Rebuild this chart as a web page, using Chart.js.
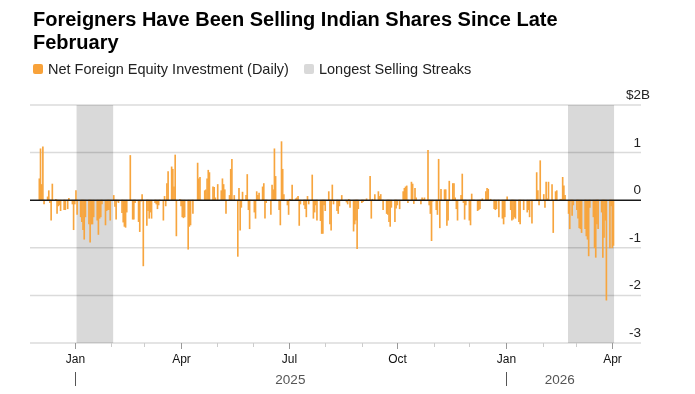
<!DOCTYPE html>
<html><head><meta charset="utf-8">
<script src="https://cdn.jsdelivr.net/npm/chart.js@4.4.1/dist/chart.umd.min.js"></script>
<style>
html,body{margin:0;padding:0;background:#fff;}
#wrap{position:relative;width:695px;height:394px;overflow:hidden;font-family:"Liberation Sans",Arial,sans-serif;}
#title{position:absolute;left:33px;top:8px;width:580px;font-weight:bold;font-size:20px;line-height:23px;color:#000;}
#legend{position:absolute;left:33px;top:60px;height:17px;font-size:14.5px;color:#222;display:flex;align-items:center;white-space:nowrap;}
.sw{display:inline-block;width:10px;height:10px;border-radius:2px;margin-right:5px;}
canvas{position:absolute;left:0;top:0;}
</style></head>
<body><div id="wrap">
<canvas id="c" width="695" height="394"></canvas>
<div id="title">Foreigners Have Been Selling Indian Shares Since Late February</div>
<div id="legend"><span class="sw" style="background:#f8a23a"></span><span>Net Foreign Equity Investment (Daily)</span><span class="sw" style="background:#d9d9d9;margin-left:15px"></span><span>Longest Selling Streaks</span></div>
</div>
<script>
// Net foreign equity investment, $B per trading day (weekdays of each month, in order)
const dec2024 = [0.45, 1.08, 0.33, 1.12, -0.08, 0.07, 0.2, -0.05, -0.42, 0.34, 0.02, -0.28, -0.12, -0.1, -0.22, -0.2, -0.2, 0, -0.18, 0.04, -0.08, -0.62];
const jan2025 = [-0.08, 0.2, -0.3, -0.35, -0.45, -0.62, -0.82, -0.35, -0.5, -0.88, -0.5, -0.5, -0.35, -0.42, -0.72, -0.38, -0.35, -0.08, -0.52, -0.22, -0.2, -0.2, -0.42];
const feb2025 = [0.1, -0.13, -0.4, -0.02, -0.05, -0.26, -0.46, -0.55, -0.57, -0.25, 0.94, 0.0, -0.4, -0.4, -0.05, -0.45, -0.66, -0.02, 0.12, -1.38];
const mar2025 = [-0.53, -0.22, -0.38, -0.25, -0.38, -0.05, -0.08, -0.18, -0.1, 0.0, -0.42, 0.08, -0.12, 0.35, 0.6, 0.7, 0.65, 0.28, 0.95, -0.75, 0.02];
const apr2025 = [-0.12, -0.35, -0.37, -0.35, -1.03, -0.55, -0.52, 0.0, -0.28, 0.0, 0.78, 0.45, 0.48, 0.0, 0.2, 0.22, 0.45, 0.63, 0.58, 0.28, 0.27, 0.05];
const may2025 = [0.0, 0.33, 0.2, 0.45, 0.33, 0.22, -0.28, 0.1, 0.65, 0.86, 0.0, 0.1, -1.18, 0.25, -0.63, -0.15, 0.17, 0.1, 0.54, -0.2, -0.6, 0.0];
const jun2025 = [-0.25, -0.38, 0.18, 0.1, 0.15, 0.28, 0.35, -0.38, -0.05, 0.0, -0.3, 0.32, 0.22, 1.08, 0.5, -0.2, -0.52, 1.23, 0.65, 0.12, -0.1];
const jul2025 = [-0.3, 0.02, 0.02, 0.32, 0.03, 0.05, 0.08, -0.53, -0.08, -0.1, -0.18, -0.35, 0.08, -0.08, 0.53, -0.38, -0.25, -0.1, -0.42, -0.43, -0.7, -0.7, -0.1];
const aug2025 = [-0.22, 0.18, -0.5, -0.63, 0.32, -0.08, -0.22, -0.28, -0.12, 0.0, 0.1, 0.0, -0.04, -0.08, 0.02, -0.15, -0.65, -0.5, -0.42, -1.02, -0.18];
const sep2025 = [-0.05, -0.03, 0.0, 0.0, 0.03, 0.5, -0.38, 0.02, 0.0, 0.12, 0.18, 0.08, 0.12, 0.0, -0.2, -0.28, -0.3, -0.45, -0.55, -0.15, -0.45, -0.17];
const oct2025 = [-0.1, 0.0, -0.18, 0.18, 0.25, 0.28, 0.3, -0.05, 0.38, 0.34, -0.07, 0.25, 0.05, 0.0, -0.08, 0.05, 0.02, 0.05, 1.05, -0.1, -0.28, -0.85, -0.02];
const nov2025 = [-0.2, -0.3, 0.86, -0.58, 0.23, 0.22, 0.22, -0.53, -0.42, 0.4, 0.35, 0.35, 0.05, -0.18, -0.42, 0.1, 0.55, -0.05, -0.4, -0.1];
const dec2025 = [-0.42, -0.52, 0.13, 0.0, 0.0, -0.22, -0.2, -0.18, 0.0, 0.03, 0.18, 0.25, 0.23, 0.0, 0.02, -0.18, -0.2, -0.18, 0.0, -0.35, -0.38, -0.5, -0.35];
const jan2026 = [0.0, 0.07, -0.2, -0.42, -0.4, -0.35, -0.38, -0.45, -0.5, 0.0, 0.0, -0.2, -0.25, -0.2, -0.35, 0.0, -0.48, 0.0, 0.58, 0.2, -0.1, 0.83];
const feb2026 = [0.12, -0.15, 0.38, 0.03, 0.38, 0.33, -0.68, 0.0, 0.18, 0.2, 0.02, 0.02, 0.48, 0.3, 0.1, -0.28, -0.6, -0.02, -0.32, -0.1];
const mar2026 = [-0.2, -0.38, -0.58, -0.6, -0.68, -0.6, -0.75, -0.82, -1.17, -0.15, -0.35, -1.0, -1.2, -0.5, -0.6, -0.25, -1.2, -0.78, -0.42, -2.1, -1.0, -0.12];
const apr2026 = [-1.0, -0.95];

const streaks = [['2025-01-03', '2025-02-02'], ['2026-02-23', '2026-04-02']];
const yTicks = [2, 1, 0, -1, -2, -3];
const monthTicks = ['2025-01','2025-02','2025-03','2025-04','2025-05','2025-06','2025-07','2025-08','2025-09','2025-10','2025-11','2025-12','2026-01','2026-02','2026-03','2026-04'];
const monthNames = {'01':'Jan','04':'Apr','07':'Jul','10':'Oct'};
const yearLabels = [['2025','2025-01-01','2026-01-01'], ['2026','2026-01-01','2026-04-02']];

const months = [[2024,12,dec2024],[2025,1,jan2025],[2025,2,feb2025],[2025,3,mar2025],[2025,4,apr2025],[2025,5,may2025],[2025,6,jun2025],[2025,7,jul2025],[2025,8,aug2025],[2025,9,sep2025],[2025,10,oct2025],[2025,11,nov2025],[2025,12,dec2025],[2026,1,jan2026],[2026,2,feb2026],[2026,3,mar2026],[2026,4,apr2026]];

const DAY = 86400000, T0 = Date.UTC(2024, 11, 2);
function dayIndex(s){ const p = s.split('-').map(Number); return (Date.UTC(p[0], p[1]-1, p[2] || 1) - T0) / DAY; }
const points = [];
months.forEach(([yr, mo, vals]) => {
  const n = new Date(Date.UTC(yr, mo, 0)).getUTCDate();
  let k = 0;
  for (let d = 1; d <= n && k < vals.length; d++) {
    const wd = new Date(Date.UTC(yr, mo-1, d)).getUTCDay();
    if (wd === 0 || wd === 6) continue;
    points.push({ x: (Date.UTC(yr, mo-1, d) - T0) / DAY, y: vals[k] });
    k++;
  }
});

const FONT = '"Liberation Sans", Arial, sans-serif';
const decor = {
  id: 'decor',
  beforeDatasetsDraw(chart) {
    const { ctx, chartArea: a, scales: { x, y } } = chart;
    ctx.save();
    ctx.fillStyle = '#d9d9d9';
    streaks.forEach(([s, e]) => {
      const x1 = x.getPixelForValue(dayIndex(s) - 0.5), x2 = x.getPixelForValue(dayIndex(e) + 0.5);
      ctx.fillRect(x1, a.top, x2 - x1, a.bottom - a.top);
    });
    ctx.strokeStyle = 'rgba(0,0,0,0.14)';
    ctx.lineWidth = 1.5;
    yTicks.forEach(v => {
      if (v === 0) return;
      const py = y.getPixelForValue(v);
      ctx.beginPath(); ctx.moveTo(a.left, py); ctx.lineTo(a.right, py); ctx.stroke();
    });
    ctx.restore();
  },
  afterDatasetsDraw(chart) {
    const { ctx, chartArea: a, scales: { x, y } } = chart;
    ctx.save();
    const y0 = y.getPixelForValue(0);
    ctx.strokeStyle = '#1a1a1a'; ctx.lineWidth = 1.5;
    ctx.beginPath(); ctx.moveTo(a.left, y0); ctx.lineTo(a.right, y0); ctx.stroke();
    ctx.fillStyle = '#222'; ctx.font = '13.5px ' + FONT; ctx.textBaseline = 'alphabetic';
    yTicks.forEach(v => {
      const py = y.getPixelForValue(v) - 6;
      if (v === yTicks[0]) {
        ctx.textAlign = 'right'; ctx.fillText('$' + v, a.right, py);
        ctx.textAlign = 'left'; ctx.fillText('B', a.right, py);
      } else {
        ctx.textAlign = 'right'; ctx.fillText(String(v), a.right, py);
      }
    });
    ctx.textAlign = 'center'; ctx.font = '12px ' + FONT; ctx.fillStyle = '#111';
    monthTicks.forEach(m => {
      const px = Math.round(x.getPixelForValue(dayIndex(m + '-01'))) + 0.5;
      const mm = m.slice(5);
      const major = !!monthNames[mm];
      ctx.strokeStyle = major ? '#999' : '#ccc'; ctx.lineWidth = 1;
      ctx.beginPath(); ctx.moveTo(px, a.bottom); ctx.lineTo(px, a.bottom + (major ? 6 : 4)); ctx.stroke();
      if (major) ctx.fillText(monthNames[mm], px, a.bottom + 20);
    });
    ctx.font = '13.5px ' + FONT; ctx.fillStyle = '#555';
    yearLabels.forEach(([t, s, e]) => {
      const x1 = x.getPixelForValue(dayIndex(s)), x2 = x.getPixelForValue(dayIndex(e));
      ctx.fillText(t, (x1 + x2) / 2, a.bottom + 41);
      const px = Math.round(x1) + 0.5;
      ctx.strokeStyle = '#555'; ctx.lineWidth = 1;
      ctx.beginPath(); ctx.moveTo(px, a.bottom + 29); ctx.lineTo(px, a.bottom + 43); ctx.stroke();
    });
    ctx.restore();
  }
};

new Chart(document.getElementById('c').getContext('2d'), {
  type: 'bar',
  data: { datasets: [{ data: points, backgroundColor: '#f7a53e', borderWidth: 0, barThickness: 1.0 }] },
  options: {
    responsive: false, animation: false, events: [],
    layout: { padding: { left: 30, right: 54, top: 105, bottom: 51 } },
    plugins: { legend: { display: false }, tooltip: { enabled: false }, title: { display: false } },
    scales: {
      x: { type: 'linear', min: -7.9, max: 509.3, offset: false, display: false },
      y: { type: 'linear', min: -3, max: 2, display: false }
    }
  },
  plugins: [decor]
});
</script>
</body></html>
